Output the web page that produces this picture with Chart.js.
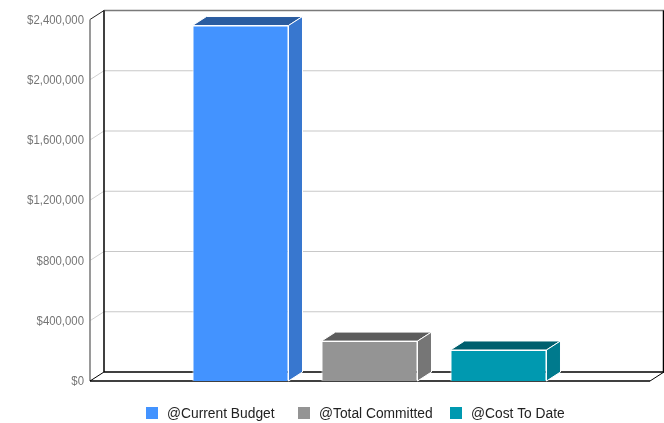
<!DOCTYPE html>
<html>
<head>
<meta charset="utf-8">
<style>
  html, body { margin: 0; padding: 0; background: #fff; }
  canvas { display: block; }
</style>
<script src="https://cdn.jsdelivr.net/npm/chart.js@4"></script>
</head>
<body>
<canvas id="chart" width="664" height="423"></canvas>
<script>
const categories = ['Budget'];
const seriesNames = ['@Current Budget', '@Total Committed', '@Cost To Date'];
const currentBudget = [2360000];
const totalCommitted = [265000];
const costToDate = [206000];
const tickValues = [0, 400000, 800000, 1200000, 1600000, 2000000, 2400000];

const frontColors = ['#4393ff', '#949494', '#0099b0'];
const topColors = ['#2a5ca0', '#5c5c5c', '#005f6e'];
const sideColors = ['#3877cf', '#767676', '#007a8d'];

// Receding depth of the 3D box
const DX = 14;
const DY = -9;
// The floor runs one pixel past the plot area on the right
const FLOOR_EXTRA = 1;

// Value labels use a horizontally condensed face
const TICK_RIGHT = 84;
const TICK_CONDENSE = 0.875;

// Legend entries are laid out by hand: [swatch x, text x]
const legendSlots = [[146, 167], [298, 319], [450, 471]];
const LEGEND_Y = 413;

function line(ctx, x1, y1, x2, y2, color, width) {
  ctx.strokeStyle = color;
  ctx.lineWidth = width;
  ctx.beginPath();
  ctx.moveTo(x1, y1);
  ctx.lineTo(x2, y2);
  ctx.stroke();
}

function face(ctx, pts, fill) {
  ctx.fillStyle = fill;
  ctx.strokeStyle = '#ffffff';
  ctx.lineWidth = 1;
  ctx.beginPath();
  pts.forEach((p, i) => i ? ctx.lineTo(p[0], p[1]) : ctx.moveTo(p[0], p[1]));
  ctx.closePath();
  ctx.fill();
  ctx.stroke();
}

// Back wall, floor and gridlines of the box, behind the bars
const boxPlugin = {
  id: 'box3d',
  beforeDatasetsDraw(chart) {
    const { ctx, chartArea: a, scales: { y } } = chart;
    const right = a.right + FLOOR_EXTRA;
    ctx.save();
    tickValues.forEach(v => {
      const py = y.getPixelForValue(v);
      if (v !== 0 && v !== tickValues[tickValues.length - 1]) {
        line(ctx, a.left, py, a.left + DX, py + DY, '#d0d0d0', 1);
        line(ctx, a.left + DX, py + DY, right + DX, py + DY, '#c8c8c8', 1.2);
      }
    });
    const top = y.getPixelForValue(tickValues[tickValues.length - 1]);
    const bottom = y.getPixelForValue(0);
    line(ctx, a.left + DX, top + DY, right + DX, top + DY, '#7a7a7a', 1.6);
    line(ctx, a.left, top, a.left + DX, top + DY, '#222222', 1);
    line(ctx, a.left + DX, top + DY, a.left + DX, bottom + DY, '#000000', 1.5);
    line(ctx, right + DX - 0.5, top + DY, right + DX - 0.5, bottom + DY, '#000000', 1.5);
    line(ctx, a.left, top, a.left, bottom, '#808080', 1.6);
    line(ctx, a.left + DX, bottom + DY, right + DX, bottom + DY, '#000000', 1.5);
    line(ctx, a.left, bottom, right, bottom, '#000000', 1.4);
    line(ctx, a.left, bottom, a.left + DX, bottom + DY, '#000000', 1);
    line(ctx, right, bottom, right + DX, bottom + DY, '#000000', 1);

    // Axis labels, positioned by the value scale
    ctx.font = '13px "Liberation Sans"';
    ctx.fillStyle = '#757575';
    ctx.textAlign = 'right';
    ctx.textBaseline = 'middle';
    y.ticks.forEach(tick => {
      ctx.save();
      ctx.translate(TICK_RIGHT, y.getPixelForValue(tick.value) + 0.5);
      ctx.scale(TICK_CONDENSE, 1);
      ctx.fillText(tick.label, 0, 0);
      ctx.restore();
    });
    ctx.restore();
  },
  // Top and side faces extruded from each bar, then the legend
  afterDatasetsDraw(chart) {
    const { ctx } = chart;
    ctx.save();
    chart.data.datasets.forEach((ds, i) => {
      const bar = chart.getDatasetMeta(i).data[0];
      const half = bar.width / 2;
      const l = bar.x - half, r = bar.x + half, t = bar.y, b = bar.base;
      face(ctx, [[l, t], [r, t], [r + DX, t + DY], [l + DX, t + DY]], topColors[i]);
      face(ctx, [[r, t], [r + DX, t + DY], [r + DX, b + DY], [r, b]], sideColors[i]);
    });
    ctx.font = '13.8px "Liberation Sans"';
    ctx.textBaseline = 'middle';
    chart.data.datasets.forEach((ds, i) => {
      ctx.fillStyle = frontColors[i];
      ctx.fillRect(legendSlots[i][0], LEGEND_Y - 6, 12, 12);
      ctx.fillStyle = '#222222';
      ctx.fillText(ds.label, legendSlots[i][1], LEGEND_Y + 1);
    });
    ctx.restore();
  }
};

const seriesValues = [currentBudget, totalCommitted, costToDate];

new Chart(document.getElementById('chart'), {
  type: 'bar',
  data: {
    labels: categories,
    datasets: seriesNames.map((label, i) => ({
      label,
      data: seriesValues[i],
      backgroundColor: frontColors[i],
      borderColor: '#ffffff',
      borderWidth: 1,
      barPercentage: 0.7442,
      categoryPercentage: 0.6923
    }))
  },
  options: {
    responsive: false,
    animation: false,
    layout: { padding: { top: 19.5, right: 15, bottom: 42, left: 0 } },
    plugins: { legend: { display: false }, tooltip: { enabled: false } },
    scales: {
      x: { display: false },
      y: {
        min: 0,
        max: 2400000,
        afterBuildTicks(scale) { scale.ticks = tickValues.map(value => ({ value })); },
        afterFit(scale) { scale.width = 90; },
        border: { display: false },
        grid: { display: false, drawTicks: false },
        ticks: {
          display: false,
          callback: v => '$' + Number(v).toLocaleString('en-US')
        }
      }
    }
  },
  plugins: [boxPlugin]
});
</script>
</body>
</html>
